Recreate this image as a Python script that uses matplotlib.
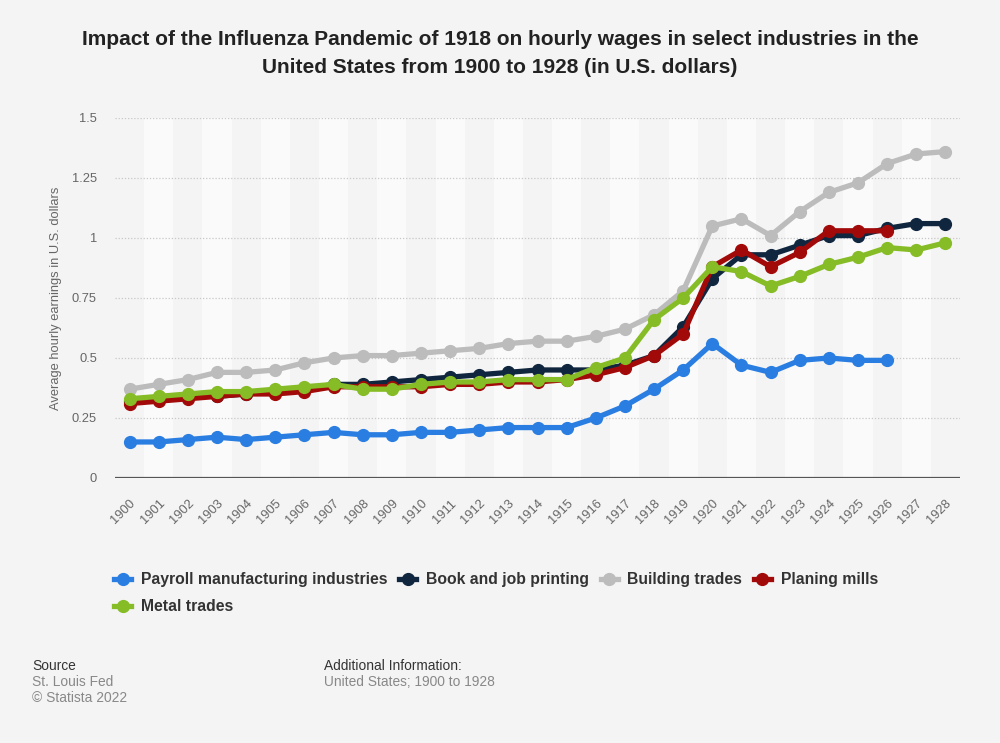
import matplotlib
matplotlib.use("Agg")
import matplotlib.pyplot as plt
import matplotlib.transforms as mtransforms
from matplotlib.lines import Line2D

plt.rcParams['font.family'] = ['Liberation Sans', 'DejaVu Sans']

years = [str(y) for y in range(1900, 1929)]

payroll = [0.15, 0.15, 0.16, 0.17, 0.16, 0.17, 0.18, 0.19, 0.18, 0.18,
           0.19, 0.19, 0.20, 0.21, 0.21, 0.21, 0.25, 0.30, 0.37, 0.45,
           0.56, 0.47, 0.44, 0.49, 0.50, 0.49, 0.49]
book = [0.32, 0.33, 0.34, 0.34, 0.35, 0.36, 0.37, 0.39, 0.39, 0.40,
        0.41, 0.42, 0.43, 0.44, 0.45, 0.45, 0.45, 0.47, 0.51, 0.63,
        0.83, 0.93, 0.93, 0.97, 1.01, 1.01, 1.04, 1.06, 1.06]
building = [0.37, 0.39, 0.41, 0.44, 0.44, 0.45, 0.48, 0.50, 0.51, 0.51,
            0.52, 0.53, 0.54, 0.56, 0.57, 0.57, 0.59, 0.62, 0.68, 0.78,
            1.05, 1.08, 1.01, 1.11, 1.19, 1.23, 1.31, 1.35, 1.36]
planing = [0.31, 0.32, 0.33, 0.34, 0.35, 0.35, 0.36, 0.38, 0.38, 0.38,
           0.38, 0.39, 0.39, 0.40, 0.40, 0.41, 0.43, 0.46, 0.51, 0.60,
           0.88, 0.95, 0.88, 0.94, 1.03, 1.03, 1.03]
metal = [0.33, 0.34, 0.35, 0.36, 0.36, 0.37, 0.38, 0.39, 0.37, 0.37,
         0.39, 0.40, 0.40, 0.41, 0.41, 0.41, 0.46, 0.50, 0.66, 0.75,
         0.88, 0.86, 0.80, 0.84, 0.89, 0.92, 0.96, 0.95, 0.98]

series = [
    ("Payroll manufacturing industries", payroll, "#2a7de1"),
    ("Book and job printing", book, "#10263f"),
    ("Building trades", building, "#bcbcbc"),
    ("Planing mills", planing, "#a20a0a"),
    ("Metal trades", metal, "#86bc25"),
]

yticks = [0, 0.25, 0.5, 0.75, 1, 1.25, 1.5]
ytick_labels = ["0", "0.25", "0.5", "0.75", "1", "1.25", "1.5"]

bg = "#f4f4f4"
fig = plt.figure(figsize=(10, 7.43), dpi=100, facecolor=bg)
ax = fig.add_axes([0.115, 0.3567, 0.845, 0.4845])
ax.set_facecolor(bg)

n = len(years)
for i in range(n):
    if i % 2 == 1:
        ax.axvspan(i - 0.5, i + 0.5, color="#fafafa", zorder=0, lw=0)

for yv in yticks[1:]:
    ax.axhline(yv, color="#c8c8c8", lw=0.9, ls=(0, (1, 1.5)), zorder=1)
ax.axhline(0, color="#555555", lw=1.6, zorder=2)

for name, vals, col in series:
    x = list(range(len(vals)))
    ax.plot(x, vals, color=col, lw=3.8, marker="o", markersize=8.5,
            solid_capstyle="round", solid_joinstyle="round", zorder=3, label=name)

ax.set_xlim(-0.5, n - 0.5)
ax.set_ylim(0, 1.5)
ax.set_xticks(range(n))
ax.set_xticklabels(years, rotation=45, ha="right", va="top", rotation_mode="anchor",
                   fontsize=9.3, color="#666666")
shift = mtransforms.ScaledTranslation(-4 / 100, 0, fig.dpi_scale_trans)
for lab in ax.get_xticklabels():
    lab.set_transform(lab.get_transform() + shift)
ax.set_yticks(yticks)
ax.set_yticklabels(ytick_labels, fontsize=9.3, color="#666666")
ax.tick_params(axis="both", length=0)
ax.tick_params(axis="y", pad=13)
ax.tick_params(axis="x", pad=14)
for s in ax.spines.values():
    s.set_visible(False)

ax.set_ylabel("Average hourly earnings in U.S. dollars", fontsize=9.3, color="#666666",
              labelpad=7)

fig.text(0.5, 0.96, "Impact of the Influenza Pandemic of 1918 on hourly wages in select industries in the\nUnited States from 1900 to 1928 (in U.S. dollars)",
         ha="center", va="top", fontsize=15, fontweight="bold", color="#222222",
         linespacing=1.65)

order = ["Payroll manufacturing industries", "Metal trades", "Book and job printing",
         "Building trades", "Planing mills"]
colors = {s[0]: s[2] for s in series}
leg_handles = [Line2D([0], [0], color=colors[nm], lw=3.8,
                      marker="o", markersize=8.5) for nm in order]
leg = fig.legend(leg_handles, order, loc="upper left", bbox_to_anchor=(0.1, 0.249),
                 ncol=4, frameon=False, handlelength=1.1, handletextpad=0.6,
                 columnspacing=0.75, labelspacing=0.78,
                 prop={"size": 11.3, "weight": "bold"})
for t in leg.get_texts():
    t.set_color("#333333")

fig.text(0.032, 0.103, "Source", fontsize=9.9, color="#333333", va="center")
fig.text(0.032, 0.0815, "St. Louis Fed", fontsize=9.9, color="#888888", va="center")
fig.text(0.032, 0.060, "© Statista 2022", fontsize=9.9, color="#888888", va="center")
fig.text(0.324, 0.103, "Additional Information:", fontsize=9.9, color="#333333", va="center")
fig.text(0.324, 0.0815, "United States; 1900 to 1928", fontsize=9.9, color="#888888", va="center")

fig.savefig("out.png", dpi=100, facecolor=bg)
